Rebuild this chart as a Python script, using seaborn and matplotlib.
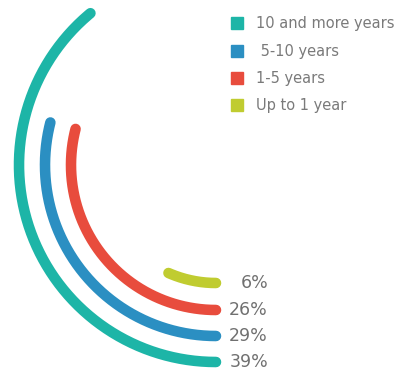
import numpy as np
import pandas as pd
import matplotlib
matplotlib.use("Agg")
import matplotlib.pyplot as plt
from matplotlib.lines import Line2D
import seaborn as sns

# ---- data ----
categories = ["10 and more years", " 5-10 years", "1-5 years", "Up to 1 year"]
percent_labels = [39, 29, 26, 6]          # printed values
arc_values = [39, 29, 29, 6.6]            # arc extent (% of full circle) as drawn in picture
colors = ["#1db5a7", "#2b8fc2", "#e84c3d", "#c0cc30"]

sns.set_theme(style="white")
plt.rcParams["font.family"] = ["DejaVu Sans"]

W, H, DPI = 401, 370, 100
fig = plt.figure(figsize=(W / DPI, H / DPI), dpi=DPI)

cx, cy = 216, 165        # pixel centre of the rings (from top)
RMAX = 210
ax = fig.add_axes([(cx - RMAX) / W, (H - cy - RMAX) / H, 2 * RMAX / W, 2 * RMAX / H],
                  projection="polar")
ax.set_theta_zero_location("S")
ax.set_theta_direction(-1)
ax.set_ylim(0, RMAX)
ax.set_axis_off()

radii = [197, 171, 145, 118]

rows = []
for cat, val, r in zip(categories, arc_values, radii):
    th = np.linspace(0, val / 100 * 2 * np.pi, 200)
    rows.append(pd.DataFrame({"theta": th, "r": r, "series": cat}))
df = pd.concat(rows, ignore_index=True)

sns.lineplot(data=df, x="theta", y="r", hue="series", hue_order=categories,
             palette=colors, sort=False, estimator=None, units="series",
             lw=7.6, solid_capstyle="round", legend=False, ax=ax, clip_on=False)

for p, r in zip(percent_labels, radii):
    ax.annotate(f"{p}%", xy=(0, r), xytext=(52, 0), textcoords="offset pixels",
                ha="right", va="center", fontsize=12.5, color="#707070",
                annotation_clip=False)

handles = [Line2D([], [], ls="none", marker="s", markersize=8, color=c) for c in colors]
fig.legend(handles, categories, loc="upper left", bbox_to_anchor=(220 / W, 1 - 6 / H),
           frameon=False, fontsize=10.5, labelcolor="#7a7a7a",
           handlelength=1.0, handletextpad=0.8, labelspacing=0.85, borderpad=0.2)

fig.savefig("out.png", dpi=DPI)
